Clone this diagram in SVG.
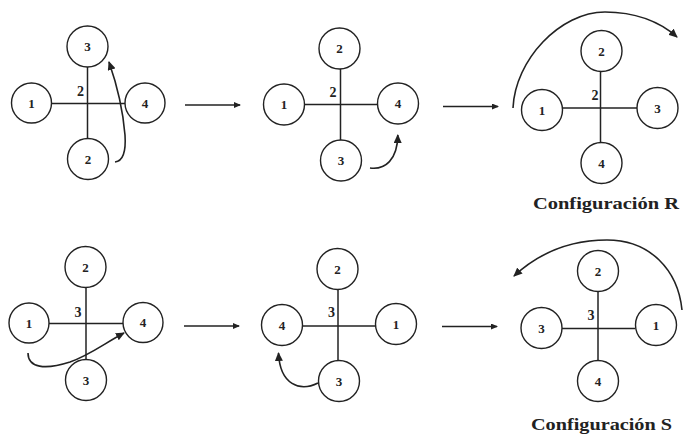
<svg xmlns="http://www.w3.org/2000/svg" width="683" height="435" viewBox="0 0 683 435">
<style>
.bg{fill:#ffffff}
.c{fill:#ffffff;stroke:#222;stroke-width:1.4}
.b{stroke:#222;stroke-width:1.5;fill:none}
.n{font-family:"Liberation Serif",serif;font-weight:bold;font-size:13px;fill:#222;text-anchor:middle}
.l{font-family:"Liberation Serif",serif;font-weight:bold;font-size:14px;fill:#222;text-anchor:middle}
.t{font-family:"Liberation Serif",serif;font-weight:bold;font-size:17px;fill:#222}
.a{stroke:#222;stroke-width:1.6;fill:none}
</style>
<defs>
<marker id="ah" markerWidth="9" markerHeight="8" refX="8" refY="4" orient="auto" markerUnits="userSpaceOnUse">
<path d="M0,0 L9,4 L0,8 Z" fill="#222"/>
</marker>
<marker id="as" markerWidth="7" markerHeight="6" refX="6" refY="3" orient="auto" markerUnits="userSpaceOnUse">
<path d="M0,0 L7,3 L0,6 Z" fill="#222"/>
</marker>
</defs>
<rect class="bg" x="0" y="0" width="683" height="435"/>

<!-- Panel 1 -->
<g id="p1-bonds">
<line class="b" x1="51" y1="103.5" x2="125" y2="103.5"/>
<line class="b" x1="87.5" y1="67" x2="87.5" y2="139"/>
<text class="l" x="80.5" y="96">2</text>
</g>
<g id="p1-n3"><circle class="c" cx="87.5" cy="46.5" r="20.5"/><text class="n" x="87.5" y="51">3</text></g>
<g id="p1-n1"><circle class="c" cx="31.5" cy="103" r="20"/><text class="n" x="31.5" y="107.5">1</text></g>
<g id="p1-n4"><circle class="c" cx="145" cy="103" r="20"/><text class="n" x="145" y="107.5">4</text></g>
<g id="p1-n2"><circle class="c" cx="88" cy="159" r="20.5"/><text class="n" x="88" y="163.5">2</text></g>

<!-- Panel 2 -->
<g id="p2-bonds">
<line class="b" x1="304" y1="104.5" x2="378" y2="104.5"/>
<line class="b" x1="340.5" y1="69" x2="340.5" y2="140"/>
<text class="l" x="333" y="97">2</text>
</g>
<g id="p2-n2"><circle class="c" cx="339.5" cy="48.5" r="20.5"/><text class="n" x="339.5" y="53">2</text></g>
<g id="p2-n1"><circle class="c" cx="284" cy="104.5" r="20.5"/><text class="n" x="284" y="109">1</text></g>
<g id="p2-n4"><circle class="c" cx="398" cy="103.5" r="20.5"/><text class="n" x="398" y="108">4</text></g>
<g id="p2-n3"><circle class="c" cx="341" cy="160.5" r="20.5"/><text class="n" x="341" y="165">3</text></g>

<!-- Panel 3 -->
<g id="p3-bonds">
<line class="b" x1="562" y1="108" x2="637" y2="108"/>
<line class="b" x1="600.5" y1="72" x2="600.5" y2="143"/>
<text class="l" x="595" y="100">2</text>
</g>
<g id="p3-n2"><circle class="c" cx="601.5" cy="51" r="20.5"/><text class="n" x="601.5" y="55.5">2</text></g>
<g id="p3-n1"><circle class="c" cx="542" cy="110" r="20.5"/><text class="n" x="542" y="114.5">1</text></g>
<g id="p3-n3"><circle class="c" cx="657.5" cy="108" r="20.5"/><text class="n" x="657.5" y="112.5">3</text></g>
<g id="p3-n4"><circle class="c" cx="601.5" cy="163" r="20.5"/><text class="n" x="601.5" y="167.5">4</text></g>
<text id="label-R" class="t" x="533" y="209" textLength="146" lengthAdjust="spacingAndGlyphs">Configuración R</text>

<!-- Panel 4 -->
<g id="p4-bonds">
<line class="b" x1="49" y1="323.5" x2="123" y2="323.5"/>
<line class="b" x1="86" y1="287" x2="86" y2="360"/>
<text class="l" x="78" y="316.5">3</text>
</g>
<g id="p4-n2"><circle class="c" cx="85.5" cy="267" r="20.5"/><text class="n" x="85.5" y="271.5">2</text></g>
<g id="p4-n1"><circle class="c" cx="29" cy="323" r="20"/><text class="n" x="29" y="327.5">1</text></g>
<g id="p4-n4"><circle class="c" cx="143" cy="322.5" r="20"/><text class="n" x="143" y="327">4</text></g>
<g id="p4-n3"><circle class="c" cx="86" cy="380" r="20.5"/><text class="n" x="86" y="384.5">3</text></g>

<!-- Panel 5 -->
<g id="p5-bonds">
<line class="b" x1="303" y1="326" x2="376" y2="326"/>
<line class="b" x1="338" y1="289" x2="338" y2="360"/>
<text class="l" x="331.5" y="316.5">3</text>
</g>
<g id="p5-n2"><circle class="c" cx="337.5" cy="269" r="20.5"/><text class="n" x="337.5" y="273.5">2</text></g>
<g id="p5-n4"><circle class="c" cx="282" cy="325" r="20.5"/><text class="n" x="282" y="329.5">4</text></g>
<g id="p5-n1"><circle class="c" cx="396" cy="324" r="20.5"/><text class="n" x="396" y="328.5">1</text></g>
<g id="p5-n3"><circle class="c" cx="339" cy="381" r="20.5"/><text class="n" x="339" y="385.5">3</text></g>

<!-- Panel 6 -->
<g id="p6-bonds">
<line class="b" x1="562" y1="328.5" x2="635" y2="328.5"/>
<line class="b" x1="598" y1="292" x2="598" y2="361"/>
<text class="l" x="591" y="320">3</text>
</g>
<g id="p6-n2"><circle class="c" cx="598" cy="271" r="20.5"/><text class="n" x="598" y="275.5">2</text></g>
<g id="p6-n3"><circle class="c" cx="541.5" cy="328" r="20.5"/><text class="n" x="541.5" y="332.5">3</text></g>
<g id="p6-n1"><circle class="c" cx="656" cy="325" r="20.5"/><text class="n" x="656" y="329.5">1</text></g>
<g id="p6-n4"><circle class="c" cx="598" cy="381" r="20.5"/><text class="n" x="598" y="385.5">4</text></g>
<text id="label-S" class="t" x="531" y="430" textLength="141" lengthAdjust="spacingAndGlyphs">Configuración S</text>

<!-- Connectors -->
<g id="connectors">
<line class="a" x1="185" y1="105" x2="240" y2="105" marker-end="url(#as)"/>
<line class="a" x1="443" y1="106.5" x2="498" y2="106.5" marker-end="url(#as)"/>
<line class="a" x1="184" y1="326" x2="239" y2="326" marker-end="url(#as)"/>
<line class="a" x1="442" y1="326.5" x2="497" y2="326.5" marker-end="url(#as)"/>
<path class="a" d="M115,162 C124,161 126,150 125,135 C123,110 117,85 109,62" marker-end="url(#ah)"/>
<path class="a" d="M370,168 C385,170 397.5,160 397.8,135" marker-end="url(#ah)"/>
<path class="a" d="M513,108 C515,60 560,12 605,12 C635,12 660,22 677,37" marker-end="url(#ah)"/>
<path class="a" d="M28,353 C28,368 45,370 70,362 C90,355 105,343 124,333" marker-end="url(#ah)"/>
<path class="a" d="M318,383 C300,392 280,385 278.5,353" marker-end="url(#ah)"/>
<path class="a" d="M682,310 C678,270 650,240 607,240 C570,240 540,252 514,276" marker-end="url(#ah)"/>
</g>
</svg>
